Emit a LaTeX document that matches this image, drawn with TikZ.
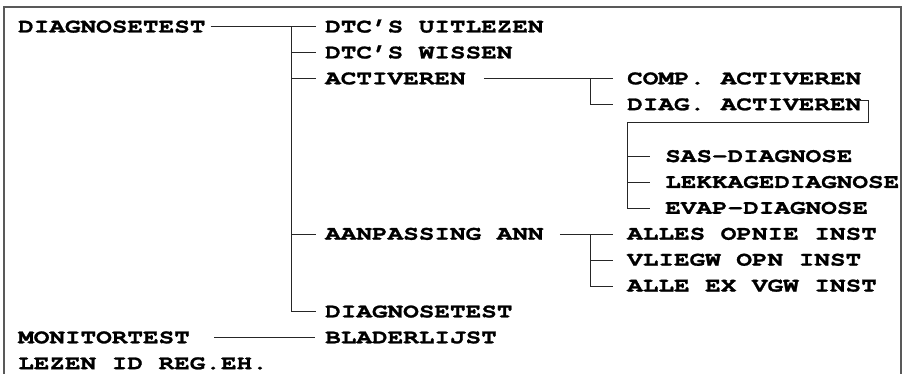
\documentclass[tikz,border=0pt]{standalone}
\usepackage{fontspec}
\newfontfamily\monob[FakeStretch=1.30,FakeBold=1.2]{TeX Gyre Cursor}
\begin{document}
\begin{tikzpicture}[x=1pt,y=-1pt,
  lbl/.style={anchor=west, inner sep=0pt, text height=11pt, text depth=0pt,
    font=\monob\bfseries\fontsize{20}{22}\selectfont},
  link/.style={draw=black!85, line width=1pt},
  frame/.style={draw=black!65, line width=1.3pt}]
\useasboundingbox (0,0) rectangle (905,374);
% frame
\draw[frame] (4,374) -- (4,7) -- (901,7) -- (901,374);
% column 1
\node[lbl] (diag)  at (18,27)    {DIAGNOSETEST};
\node[lbl] (mon)   at (18,337.8) {MONITORTEST};
\node[lbl] (lez)   at (18,363.7) {LEZEN ID REG.EH.};
% column 2
\node[lbl] (uit)   at (325,27)    {DTC’S UITLEZEN};
\node[lbl] (wis)   at (325,52.9)  {DTC’S WISSEN};
\node[lbl] (act)   at (325,78.8)  {ACTIVEREN};
\node[lbl] (aan)   at (325,234.2) {AANPASSING ANN};
\node[lbl] (dtest) at (325,311.9) {DIAGNOSETEST};
\node[lbl] (blad)  at (325,337.8) {BLADERLIJST};
% column 3
\node[lbl] (comp)  at (627,78.8)  {COMP. ACTIVEREN};
\node[lbl] (dact)  at (627,104.7) {DIAG. ACTIVEREN};
\node[lbl] (alles) at (627,234.2) {ALLES OPNIE INST};
\node[lbl] (vlieg) at (627,260.1) {VLIEGW OPN INST};
\node[lbl] (allex) at (627,286)   {ALLE EX VGW INST};
% column 4
\node[lbl] (sas)   at (665,156.5) {SAS-DIAGNOSE};
\node[lbl] (lek)   at (665,182.4) {LEKKAGEDIAGNOSE};
\node[lbl] (evap)  at (665,208.3) {EVAP-DIAGNOSE};
% junctions
\coordinate (v1) at (291,27);
\coordinate (v2) at (590,78.8);
\coordinate (v3) at (590,234.2);
\coordinate (hk2) at (868,123);
\coordinate (hk3) at (627,123);
% connectors level 1
\draw[link, shorten <=5pt, shorten >=9pt] (diag.east) -- (uit.west);
\draw[link, shorten >=9pt] (v1) |- (wis.west);
\draw[link, shorten >=9pt] (v1) |- (act.west);
\draw[link, shorten >=9pt] (v1) |- (aan.west);
\draw[link, shorten >=9pt] (v1) |- (dtest.west);
\draw[link, shorten <=24pt, shorten >=10pt] (mon.east) -- (blad.west);
% ACTIVEREN
\draw[link, shorten <=18pt, shorten >=14pt] (act.east) -- (comp.west);
\draw[link, shorten >=14pt] (v2) |- (dact.west);
% DIAG. ACTIVEREN hook
\draw[link] ([xshift=-4pt,yshift=-1.5pt]dact.north east) -| (hk2) -- (hk3);
\draw[link, shorten >=15pt] (hk3) |- (sas.west);
\draw[link, shorten >=15pt] (hk3) |- (lek.west);
\draw[link, shorten >=15pt] (hk3) |- (evap.west);
% AANPASSING ANN
\draw[link, shorten <=16pt, shorten >=14pt] (aan.east) -- (alles.west);
\draw[link, shorten >=14pt] (v3) |- (vlieg.west);
\draw[link, shorten >=14pt] (v3) |- (allex.west);
\end{tikzpicture}
\end{document}
